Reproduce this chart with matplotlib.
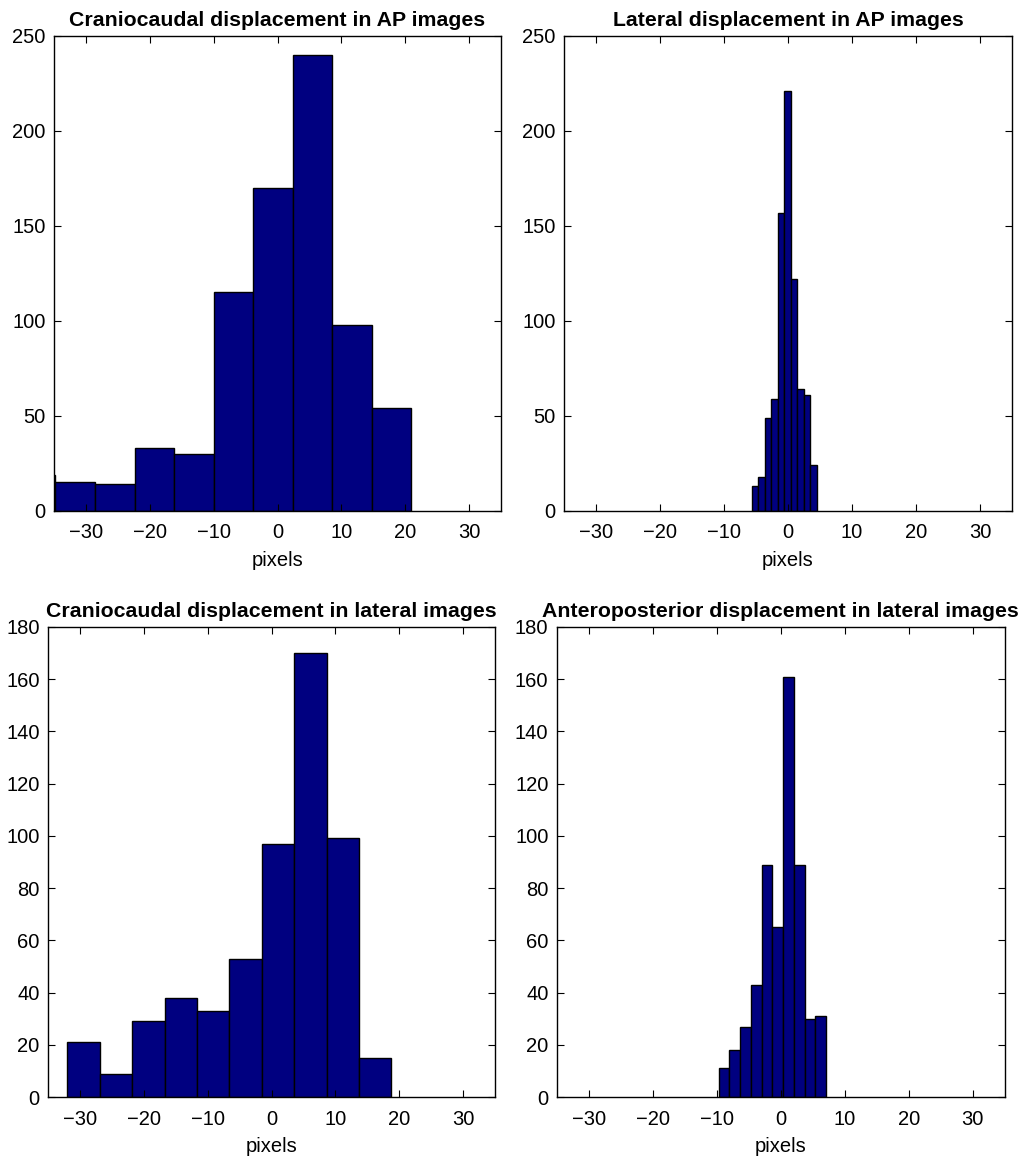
import numpy as np
import matplotlib.pyplot as plt

plt.rcParams['font.family'] = ['Liberation Sans', 'DejaVu Sans']

# histogram bins (centres, width) and counts for each panel
cc_ap_centers = [-37.87, -31.68, -25.49, -19.30, -13.11, -6.92, -0.73, 5.46, 11.65, 17.84]
cc_ap_width = 6.19
cc_ap_counts = [19, 15, 14, 33, 30, 115, 170, 240, 98, 54]

lat_ap_centers = [-5.13, -4.12, -3.11, -2.10, -1.09, -0.08, 0.93, 1.94, 2.95, 3.96]
lat_ap_width = 1.009
lat_ap_counts = [13, 18, 49, 59, 157, 221, 122, 64, 61, 24]

cc_lat_centers = [-29.44, -24.36, -19.29, -14.21, -9.14, -4.06, 1.02, 6.09, 11.17, 16.24]
cc_lat_width = 5.076
cc_lat_counts = [21, 9, 29, 38, 33, 53, 97, 170, 99, 15]

ap_lat_centers = [-8.86, -7.18, -5.50, -3.82, -2.15, -0.47, 1.21, 2.89, 4.57, 6.25]
ap_lat_width = 1.679
ap_lat_counts = [11, 18, 27, 43, 89, 65, 161, 89, 30, 31]

titles = ['Craniocaudal displacement in AP images',
          'Lateral displacement in AP images',
          'Craniocaudal displacement in lateral images',
          'Anteroposterior displacement in lateral images']

x_ticks = [-30, -20, -10, 0, 10, 20, 30]
y_ticks_ap = [0, 50, 100, 150, 200, 250]
y_ticks_lat = [0, 20, 40, 60, 80, 100, 120, 140, 160, 180]

fig = plt.figure(figsize=(10.31, 11.6), dpi=100)

# [left, bottom, width, height] in figure fractions
positions = [
    [0.0524, 0.5595, 0.4336, 0.4095],
    [0.5470, 0.5595, 0.4345, 0.4095],
    [0.0466, 0.0543, 0.4336, 0.4052],
    [0.5400, 0.0543, 0.4345, 0.4052],
]

panels = [
    (cc_ap_centers, cc_ap_width, cc_ap_counts, 250, y_ticks_ap),
    (lat_ap_centers, lat_ap_width, lat_ap_counts, 250, y_ticks_ap),
    (cc_lat_centers, cc_lat_width, cc_lat_counts, 180, y_ticks_lat),
    (ap_lat_centers, ap_lat_width, ap_lat_counts, 180, y_ticks_lat),
]

for pos, title, (centers, width, counts, ymax, yticks) in zip(positions, titles, panels):
    ax = fig.add_axes(pos)
    ax.bar(centers, counts, width=width, color='#000080', edgecolor='black',
           linewidth=1.0, align='center')
    ax.set_xlim(-35, 35)
    ax.set_ylim(0, ymax)
    ax.set_xticks(x_ticks)
    ax.set_yticks(yticks)
    ax.tick_params(direction='in', top=True, right=True, length=5, width=0.8,
                   labelsize=14.5)
    ax.tick_params(axis='x', pad=9)
    ax.tick_params(axis='y', pad=6)
    for sp in ax.spines.values():
        sp.set_linewidth(1.0)
        sp.set_zorder(5)
    ax.set_xlabel('pixels', fontsize=14.5, labelpad=6)
    ax.set_title(title, fontsize=15.3, fontweight='bold', pad=7)

fig.savefig('out.png', dpi=100)
